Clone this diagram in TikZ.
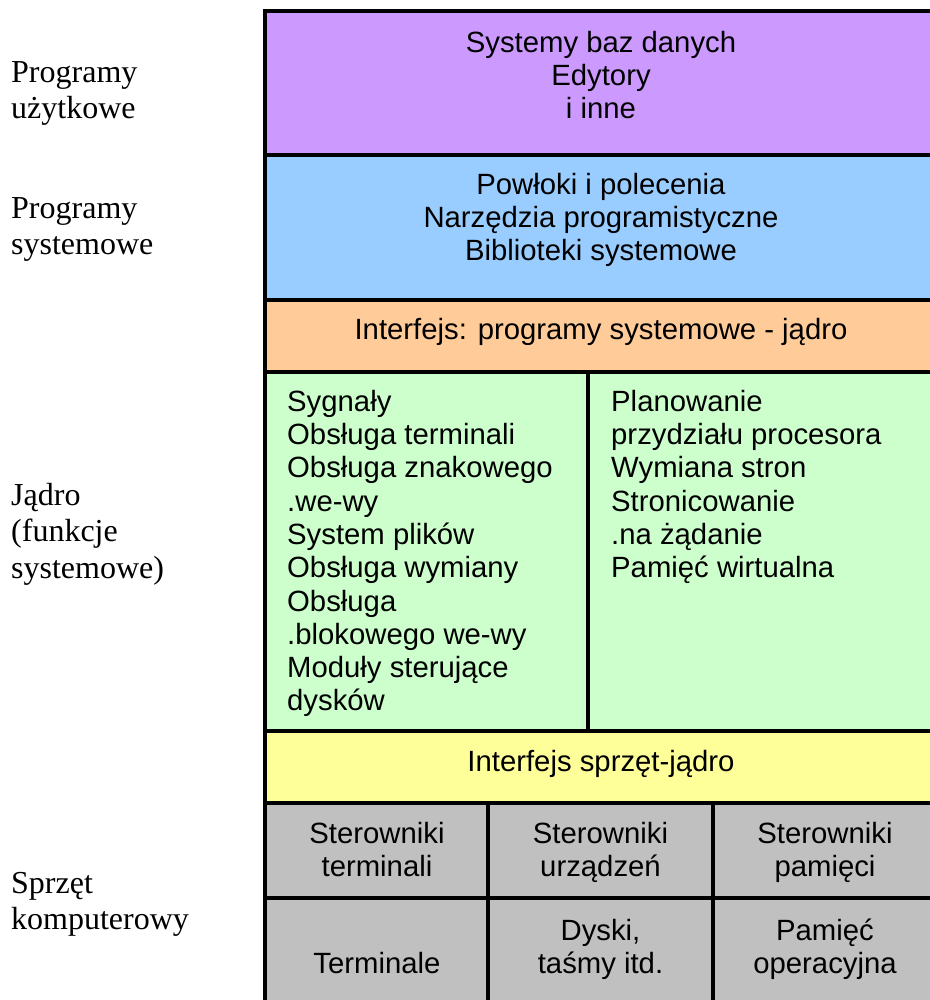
\documentclass[tikz,border=0pt]{standalone}
\usepackage{fontspec}
\setmainfont{Liberation Sans}
\newfontfamily\sidefont{Liberation Serif}

\definecolor{appcol}{HTML}{CC99FF}
\definecolor{syscol}{HTML}{99CCFF}
\definecolor{ifcol}{HTML}{FFCC99}
\definecolor{kercol}{HTML}{CCFFCC}
\definecolor{hwifcol}{HTML}{FFFF99}
\definecolor{hwcol}{HTML}{C0C0C0}

% fixed-height struts so that a node's top edge sits at a known distance above its first baseline
\newcommand\bodystrut{\rule{0pt}{24bp}}
\newcommand\sidestrut{\rule{0pt}{26bp}}

\tikzset{
  grid/.style={line width=4.2bp, black},
  body/.style={font=\fontsize{29.3bp}{33.3bp}\selectfont, inner sep=0pt, anchor=north, align=center},
  bodyleft/.style={body, anchor=north west, align=left},
  side/.style={font=\sidefont\fontsize{32bp}{36.5bp}\selectfont, inner sep=0pt, anchor=north west, align=left}
}

\begin{document}
\begin{tikzpicture}[x=1bp, y=-1bp]
\useasboundingbox (0,0) rectangle (930,1000);
\begin{scope}
  \clip (0,0) rectangle (930,1000);
  % layer fills
  \fill[appcol]  (265,11)  rectangle (937,155);
  \fill[syscol]  (265,155) rectangle (937,300);
  \fill[ifcol]   (265,300) rectangle (937,372);
  \fill[kercol]  (265,372) rectangle (937,731);
  \fill[hwifcol] (265,731) rectangle (937,803);
  \fill[hwcol]   (265,803) rectangle (937,1012);
  % frame and separators
  \draw[grid] (265,11) rectangle (937,1012);
  \foreach \yy in {155,300,372,731,803,898}
    \draw[grid] (265,\yy) -- (937,\yy);
  \draw[grid] (588,372) -- (588,731);
  \draw[grid] (488,803) -- (488,1012);
  \draw[grid] (713,803) -- (713,1012);
\end{scope}

% layer contents
\node[body] (apps) at (601,28) {\bodystrut Systemy baz danych\\Edytory\\i inne};
\node[body] (sysprog) at (601,170) {\bodystrut Powłoki i polecenia\\Narzędzia programistyczne\\Biblioteki systemowe};
\node[body] (sysif) at (601,315) {\bodystrut Interfejs: programy systemowe - jądro};
\node[bodyleft] (kerA) at (287,387) {\bodystrut Sygnały\\Obsługa terminali\\Obsługa znakowego\\.we-wy\\System plików\\Obsługa wymiany\\Obsługa\\.blokowego we-wy\\Moduły sterujące\\dysków};
\node[bodyleft] (kerB) at (611,387) {\bodystrut Planowanie\\przydziału procesora\\Wymiana stron\\Stronicowanie\\.na żądanie\\Pamięć wirtualna};
\node[body] (hwif) at (601,747.5) {\bodystrut Interfejs sprzęt-jądro};
\node[body] (ctrlA) at (377,819) {\bodystrut Sterowniki\\terminali};
\node[body] (ctrlB) at (600.5,819) {\bodystrut Sterowniki\\urządzeń};
\node[body] (ctrlC) at (825,819) {\bodystrut Sterowniki\\pamięci};
\node[body] (devA) at (377,949) {\bodystrut Terminale};
\node[body] (devB) at (600.5,916) {\bodystrut Dyski,\\taśmy itd.};
\node[body] (devC) at (825,916) {\bodystrut Pamięć\\operacyjna};

% layer names
\node[side] (lblApps) at (11,56) {\sidestrut Programy\\użytkowe};
\node[side] (lblSys) at (11,192) {\sidestrut Programy\\systemowe};
\node[side] (lblKer) at (11,479) {\sidestrut Jądro\\(funkcje\\systemowe)};
\node[side] (lblHw) at (11,867) {\sidestrut Sprzęt\\komputerowy};
\end{tikzpicture}
\end{document}
